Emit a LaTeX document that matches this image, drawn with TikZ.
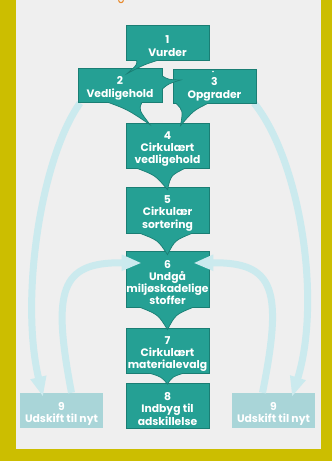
\documentclass[tikz,border=0pt]{standalone}
\usepackage{fontspec}
\setmainfont{Poppins}
\usetikzlibrary{arrows.meta,calc}

\definecolor{frameyellow}{HTML}{CCBE00}
\definecolor{paper}{HTML}{EFEFEF}
\definecolor{tealfill}{HTML}{25A094}
\definecolor{tealedge}{HTML}{1A7E74}
\definecolor{palebox}{HTML}{A9D5D8}
\definecolor{loopblue}{HTML}{CBEAEE}
\definecolor{titleorange}{HTML}{E8892B}

% callout tail: #1,#2 ends of the base on the source box, #3 tip, #4 inward pull
\newcommand\calltail[4]{%
  \coordinate (tA) at #1; \coordinate (tB) at #2; \coordinate (tT) at #3;
  \coordinate (tM) at ($(tA)!.5!(tB)$);
  \coordinate (cA) at ($(tA)!.5!(tT)!#4!(tM)$);
  \coordinate (cB) at ($(tB)!.5!(tT)!#4!(tM)$);
  \fill[tailfill] (tA) .. controls (cA) .. (tT) .. controls (cB) .. (tB)
    -- ($(tB)!-.12!(tT)$) -- ($(tA)!-.12!(tT)$) -- cycle;
  \draw[tailedge] (tA) .. controls (cA) .. (tT) .. controls (cB) .. (tB);
}

\begin{document}
\begin{tikzpicture}[x=1pt,y=-1pt,
  boxtext/.style={text=white, font=\fontsize{10.8}{12.3}\selectfont\bfseries,
    align=center, inner sep=0pt},
  stepbox/.style={rectangle, fill=tealfill, draw=tealedge,
    line width=0.7pt, minimum width=83pt, inner sep=0pt},
  replbox/.style={rectangle, fill=palebox, minimum width=83pt,
    minimum height=35pt, inner sep=0pt},
  % box caption, set a little below the box centre
  caption/.style={label={[boxtext, yshift=-3.5pt]center:{#1}}},
  tailfill/.style={fill=tealfill},
  tailedge/.style={draw=tealedge, line width=0.7pt},
  loop/.style={draw=loopblue, line width=7pt,
    -{Triangle[width=15pt,length=20pt]}}
]
% page, frame
\fill[paper] (0,0) rectangle (332,461);
\useasboundingbox (0,0) rectangle (332,461);
\fill[frameyellow] (0,0) rectangle (16,461);
\fill[frameyellow] (321,0) rectangle (332,461);
\fill[frameyellow] (0,449) rectangle (332,461);
% descender of the heading above
\draw[titleorange, line width=1.1pt]
  (118.5,0.3) .. controls (119.2,3.4) and (122.8,3.4) .. (123.5,0.3);

% replacement boxes
\node[replbox, caption={9\\Udskift til nyt}] (b9L) at (61.5,410.5) {};
\node[replbox, caption={9\\Udskift til nyt}] (b9R) at (273.5,410.5) {};

% step boxes
\node[stepbox, minimum height=56pt, caption={6\\Undgå\\miljøskadelige\\stoffer}] (b6) at (167.5,279) {};

% loops from maintenance / upgrade down to replacement
\draw[loop] (80,103) .. controls (40,160) and (20,300) .. ($(b9L.north)+(-18.5,4)$);
\draw[loop] (254,103) .. controls (300,160) and (322,300) .. ($(b9R.north)+(18.5,4)$);

\node[stepbox, minimum height=35pt, caption={1\\Vurder}] (b1) at (167.5,42.5) {};
\node[stepbox, minimum height=34pt, minimum width=84pt, caption={2\\Vedligehold}] (b2) at (120,85) {};
\node[stepbox, minimum height=34pt, caption={3\\Opgrader}] (b3) at (214.5,86) {};
\fill[white] (213,71.5) circle (0.8);
\node[stepbox, minimum height=45pt, caption={4\\Cirkulært\\vedligehold}] (b4) at (167.5,145.5) {};
\node[stepbox, minimum height=46pt, caption={5\\Cirkulær\\sortering}] (b5) at (167.5,210) {};
\node[stepbox, minimum height=45pt, caption={7\\Cirkulært\\materialevalg}] (b7) at (167.5,350.5) {};
\node[stepbox, minimum height=45pt, caption={8\\Indbyg til\\adskillelse}] (b8) at (167.5,405.5) {};

% callout tails
\calltail{($(b1.south west)+(11,0)$)}{($(b1.south west)+(32,0)$)}{($(b2.north)+(7,6)$)}{.35}
\calltail{($(b2.east)+(0,-9)$)}{($(b2.east)+(0,4)$)}{($(b3.west)+(8,-6)$)}{.35}
\calltail{($(b2.south)+(-12,0)$)}{($(b2.south)+(22,0)$)}{($(b4.north)+(-17.5,2)$)}{.35}
\calltail{($(b3.south)+(-38.5,0)$)}{($(b3.south)+(-6.5,0)$)}{($(b4.north)+(13,3)$)}{.35}
\calltail{($(b4.south)+(-30.5,0)$)}{($(b4.south)+(17.5,0)$)}{($(b5.north)+(0,3)$)}{.35}
\calltail{($(b5.south)+(-27.5,0)$)}{($(b5.south)+(24.5,0)$)}{($(b6.north)+(0,4)$)}{.35}
\calltail{($(b6.south)+(-27.5,0)$)}{($(b6.south)+(25.5,0)$)}{($(b7.north)+(0,2)$)}{.35}
\calltail{($(b7.south)+(-17.5,0)$)}{($(b7.south)+(15.5,0)$)}{($(b8.north)+(0,1.5)$)}{.35}

% loops from replacement back up to step 6
\draw[loop] ($(b9L.north)+(10,0)$) .. controls (52,290) and (60,262) .. ($(b6.west)+(16,-16)$);
\draw[loop] ($(b9R.north)+(-11,0)$) .. controls (283,290) and (275,262) .. ($(b6.east)+(-16,-16)$);
\end{tikzpicture}
\end{document}
